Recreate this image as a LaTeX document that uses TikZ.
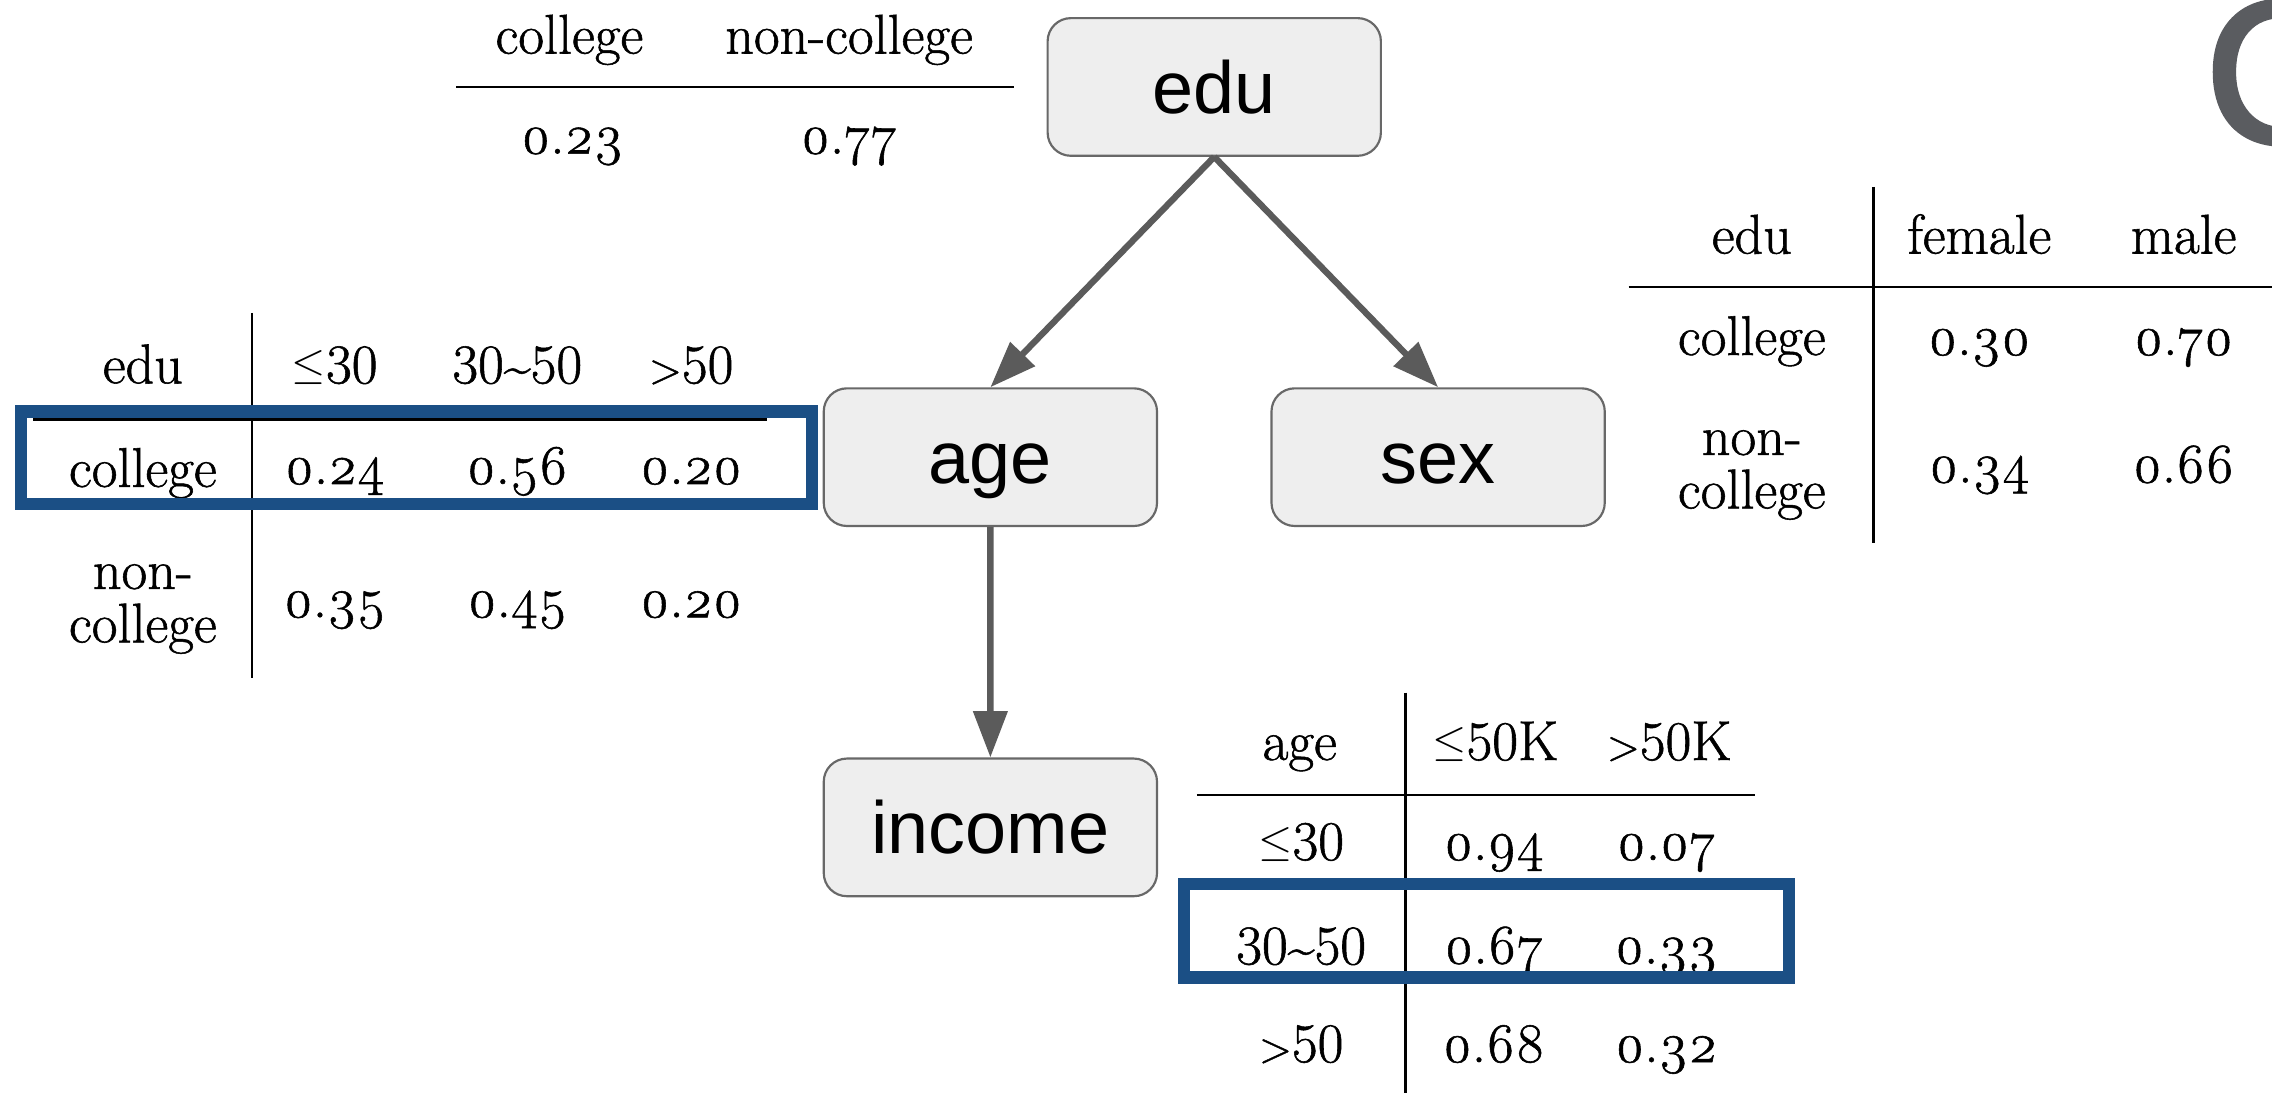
\documentclass[tikz,border=0pt]{standalone}
\usepackage{fontspec}
\setmainfont{Latin Modern Roman}[FakeBold=1]
\newfontfamily\valfont{Latin Modern Roman}[Numbers=OldStyle,FakeBold=1]
\newfontfamily\nodefont{Liberation Sans}
\newfontfamily\titlefont{Liberation Sans}[FakeBold=2]
\usetikzlibrary{arrows.meta,positioning}
\definecolor{nodefill}{HTML}{EEEEEE}
\definecolor{nodeline}{HTML}{686868}
\definecolor{arrowgray}{HTML}{5B5B5B}
\definecolor{pickblue}{HTML}{1B4F85}
\definecolor{titlegray}{HTML}{5A5C60}
\newcommand\smallleq{{\fontsize{19}{19}\selectfont\raisebox{0.1em}{$\leq$}}}
\newcommand\smallgt{{\fontsize{17}{17}\selectfont>}}
\newcommand\smalltilde{{\fontsize{19}{19}\selectfont\textasciitilde}}

\begin{document}
\begin{tikzpicture}%
  [x=0.2mm,y=-0.2mm,
   level distance=51.1mm,
   level 1/.style={sibling distance=61.8mm},
   edge from parent/.style={draw=arrowgray,line width=2.5pt,
     -{Triangle[length=6.4mm,width=4.6mm]}},
   edge from parent path={(\tikzparentnode.south) -- (\tikzchildnode.north)}]
  \tikzstyle{var node}=[rectangle,rounded corners=3.2mm,draw=nodeline,
    fill=nodefill,line width=0.85pt,minimum width=46mm,minimum height=19mm,
    text height=20.8pt,text depth=0pt,
    font=\nodefont\fontsize{29}{29}\selectfont]
  \tikzstyle{cell}=[anchor=base,inner sep=0pt,font=\fontsize{22}{21}\selectfont]
  \tikzstyle{val cell}=[cell,font=\valfont\fontsize{22}{21}\selectfont]
  \tikzstyle{two cell}=[cell,anchor=center,align=center]
  \tikzstyle{rule}=[line width=0.85pt]
  \tikzstyle{pick box}=[draw=pickblue,line width=4.9pt]
  \useasboundingbox (0,0) rectangle (1568,754);
  % network
  \node(edu)[var node] at (838,60) {edu}
    child{node(age)[var node]{age}
      child{node(income)[var node]{income}}}
    child{node(sex)[var node]{sex}};
  % cut-off title letter
  \node(title)[anchor=base west,inner sep=0pt,text=titlegray,
    font=\titlefont\fontsize{80}{80}\selectfont] at (1521,98.5) {C};
  % P(edu)
  \node(pc1)[cell] at (393,37) {college};
  \node(pc2)[cell] at (586,37) {non-college};
  \draw[rule] (315,60) -- (700,60);
  \node(pv1)[val cell] at (395,106) {0.23};
  \node(pv2)[val cell] at (586,106) {0.77};
  % P(age | edu)
  \draw[rule] (174,216) -- (174,468);
  \draw[rule] (23,289.5) -- (529,289.5);
  \node(ah0)[cell] at (98.6,264.5) {edu};
  \node(ah1)[cell] at (231,264.5) {\smallleq30};
  \node(ah2)[cell] at (357,264.5) {30\smalltilde50};
  \node(ah3)[cell] at (477,264.5) {\smallgt50};
  \node(ar1)[cell] at (98.6,336) {college};
  \node(a11)[val cell] at (231,334) {0.24};
  \node(a12)[val cell] at (357,334) {0.56};
  \node(a13)[val cell] at (477,334) {0.20};
  \node(ar2)[two cell] at (98.6,420.3) {non-\\college};
  \node(a21)[val cell] at (231,426) {0.35};
  \node(a22)[val cell] at (357,426) {0.45};
  \node(a23)[val cell] at (477,426) {0.20};
  \draw[pick box] (14.5,284) rectangle (560.5,348);
  % P(sex | edu)
  \draw[rule] (1293,129) -- (1293,375);
  \draw[rule] (1124,198) -- (1568,198);
  \node(sh0)[cell] at (1209,175) {edu};
  \node(sh1)[cell] at (1366,175) {female};
  \node(sh2)[cell] at (1507,175) {male};
  \node(sr1)[cell] at (1209,245) {college};
  \node(s11)[val cell] at (1366,245) {0.30};
  \node(s12)[val cell] at (1507,245) {0.70};
  \node(sr2)[two cell] at (1209,327.8) {non-\\college};
  \node(s21)[val cell] at (1366,333) {0.34};
  \node(s22)[val cell] at (1507,333) {0.66};
  % P(income | age)
  \draw[rule] (970,478) -- (970,754);
  \draw[rule] (826,548.6) -- (1211,548.6);
  \node(ih0)[cell] at (897,524.5) {age};
  \node(ih1)[cell] at (1032,524.5) {\smallleq50K};
  \node(ih2)[cell] at (1152,524.5) {\smallgt50K};
  \node(ir1)[cell] at (898,593.5) {\smallleq30};
  \node(i11)[val cell] at (1031,593.5) {0.94};
  \node(i12)[val cell] at (1150,593.5) {0.07};
  \node(ir2)[cell] at (898,665.5) {30\smalltilde50};
  \node(i21)[val cell] at (1031,665) {0.67};
  \node(i22)[val cell] at (1150,665) {0.33};
  \node(ir3)[cell] at (898,733) {\smallgt50};
  \node(i31)[val cell] at (1031,733) {0.68};
  \node(i32)[val cell] at (1150,733) {0.32};
  \draw[pick box] (817,610) rectangle (1234.5,674.5);
\end{tikzpicture}
\end{document}
